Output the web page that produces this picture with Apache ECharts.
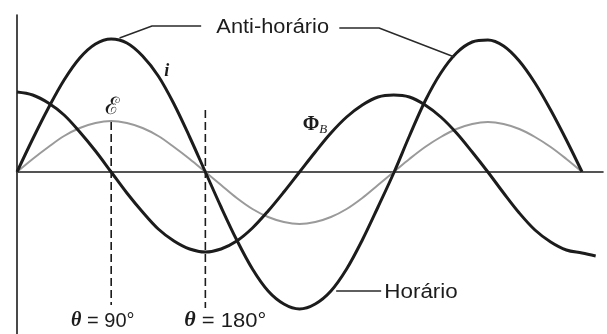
<!DOCTYPE html>
<html>
<head>
<meta charset="utf-8">
<script src="https://cdn.jsdelivr.net/npm/echarts@6/dist/echarts.min.js"></script>
<style>
  html, body { margin: 0; padding: 0; background: #fff; }
  #chart { width: 607px; height: 334px; }
</style>
</head>
<body>
<div id="chart"></div>
<script>
// Rotation angle of the loop, in degrees
const theta = [0, 15, 30, 45, 60, 75, 90, 105, 120, 135, 150, 165, 180,
  195, 210, 225, 240, 255, 270, 285, 300, 315, 330, 345, 360,
  375, 390, 405, 420, 435, 450, 465, 480, 495, 510, 525, 540];

// Induced current i
const current = [0, 33, 64, 92, 114, 128, 133, 129, 116, 96, 68, 35, 0,
  -35, -68, -97, -119, -132, -137, -132, -119, -97, -68, -35, -1,
  36, 71, 99, 119, 130, 132, 126, 111, 89, 62, 32, 0];

// Induced emf
const emf = [0, 13, 25, 36, 44, 49, 51, 49, 44, 36, 25, 13, 0,
  -13, -26, -37, -45, -50, -52, -50, -45, -37, -26, -13, 0,
  13, 25, 35, 43, 48, 50, 48, 43, 35, 25, 13, 0];

// Magnetic flux through the loop (runs a little past 540°)
const fluxTheta = theta.concat([553]);
const flux = [80, 77, 69, 57, 40, 21, 0, -21, -40, -57, -69, -77, -80,
  -77, -69, -56, -39, -20, 0, 20, 39, 55, 67, 75, 77,
  75, 67, 55, 39, 20, 0, -21, -41, -58, -70, -78, -81, -84];

// Dashed guides at the marked angles: [angle, top value, bottom value]
const guides = [[90, 50, -133], [180, 62, -136]];

const pairs = (xs, ys) => xs.map((x, k) => [x, ys[k]]);

// Leader lines for the rotation-direction callouts (data coordinates)
const leaders = [
  [[176, 146], [129, 146], [98, 134]],
  [[308, 144], [346, 144], [418, 115]],
  [[348, -119], [305, -119]]
];

const ink = '#1c1c1c';
const sans = '"Liberation Sans", Arial, Helvetica, sans-serif';

const chart = echarts.init(document.getElementById('chart'), null, { renderer: 'canvas' });

const series = [
  {
    name: 'emf', type: 'line', data: pairs(theta, emf), smooth: 0.35,
    showSymbol: false, silent: true,
    lineStyle: { color: '#9a9a9a', width: 2 }, z: 2
  },
  {
    name: 'flux', type: 'line', data: pairs(fluxTheta, flux), smooth: 0.35,
    showSymbol: false, silent: true,
    lineStyle: { color: ink, width: 3 }, z: 3
  },
  {
    name: 'current', type: 'line', data: pairs(theta, current), smooth: 0.35,
    showSymbol: false, silent: true,
    lineStyle: { color: ink, width: 3 }, z: 3
  }
];

guides.forEach(g => series.push({
  type: 'line', data: [[g[0], g[1]], [g[0], g[2]]],
  showSymbol: false, silent: true,
  lineStyle: { color: ink, width: 1.6, type: [8, 4] }, z: 1
}));

leaders.forEach(l => series.push({
  type: 'line', data: l, showSymbol: false, silent: true,
  lineStyle: { color: '#2a2a2a', width: 1.4 }, z: 4
}));

chart.setOption({
  animation: false,
  backgroundColor: '#ffffff',
  grid: { left: 17, right: 4, top: 15, bottom: 0 },
  xAxis: {
    type: 'value', min: 0, max: 560,
    axisLine: { show: true, onZero: true, lineStyle: { color: ink, width: 1.6 } },
    axisTick: { show: false }, axisLabel: { show: false }, splitLine: { show: false }
  },
  yAxis: {
    type: 'value', min: -162, max: 157,
    axisLine: { show: true, onZero: false, lineStyle: { color: ink, width: 1.6 } },
    axisTick: { show: false }, axisLabel: { show: false }, splitLine: { show: false }
  },
  series: series
});

// Text annotations placed in data coordinates
const thetaRich = { t: { font: 'italic bold 20px "Liberation Serif", serif', fill: ink } };
const notes = [
  { at: [190.5, 145], align: 'left', text: 'Anti-horário', sx: 1.09, style: { font: '20px ' + sans } },
  { at: [351, -120], align: 'left', text: 'Horário', sx: 1.12, style: { font: '20px ' + sans } },
  { at: [143, 101], align: 'center', text: 'i',
    style: { font: 'italic bold 18px "Liberation Serif", serif' } },
  { at: [91, 64], align: 'center', text: 'ℰ',
    style: { font: '24px "DejaVu Serif", serif' } },
  { at: [273, 47], align: 'left', text: '{p|Φ}{s|B}',
    style: { rich: {
      p: { font: 'bold 20px "Liberation Serif", serif', fill: ink },
      s: { font: 'italic 13px "Liberation Serif", serif', fill: ink, padding: [10, 0, 0, 0] }
    } } },
  { at: [82, -149], align: 'center', text: '{t|θ} = 90°',
    style: { font: '20px ' + sans, rich: thetaRich } },
  { at: [199, -149], align: 'center', text: '{t|θ} = 180°', sx: 1.1,
    style: { font: '20px ' + sans, rich: thetaRich } }
];

chart.setOption({
  graphic: notes.map(n => {
    const p = chart.convertToPixel({ gridIndex: 0 }, n.at);
    return {
      type: 'text', x: p[0], y: p[1], scaleX: n.sx || 1, silent: true, z: 10,
      style: Object.assign({ text: n.text, fill: ink, align: n.align, verticalAlign: 'middle' }, n.style)
    };
  })
});
</script>
</body>
</html>
